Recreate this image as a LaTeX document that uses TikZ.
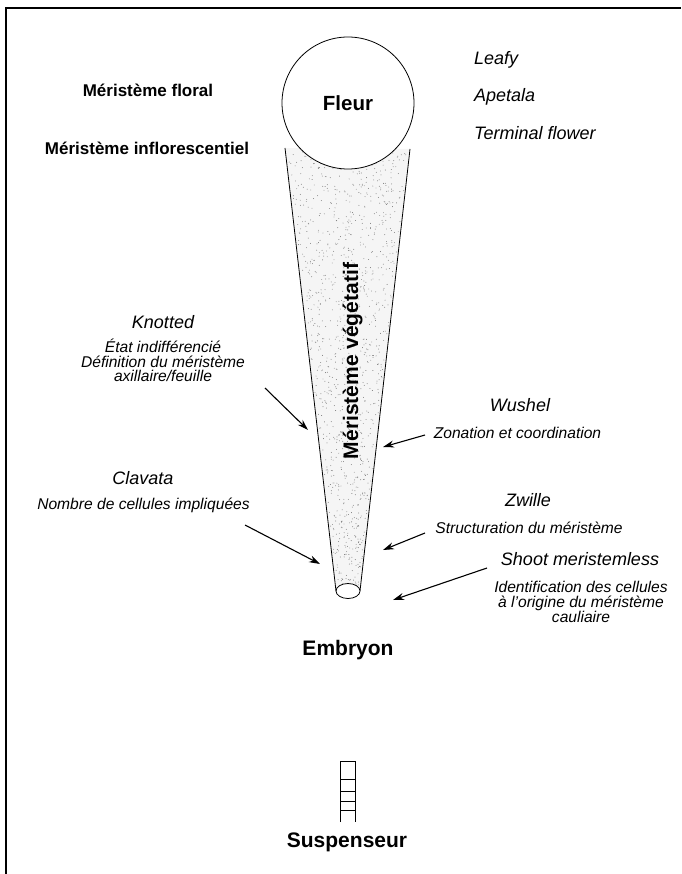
\documentclass[tikz,border=0pt]{standalone}
\usepackage{fontspec}
\setmainfont{Liberation Sans}
\usetikzlibrary{arrows.meta}
\begin{document}
\begin{tikzpicture}[x=1pt,y=-1pt,
  lbl/.style={font=\bfseries\fontsize{17}{20}\selectfont, inner sep=0pt},
  big/.style={font=\bfseries\fontsize{21}{24}\selectfont, inner sep=0pt},
  gene/.style={font=\itshape\fontsize{18}{21}\selectfont, inner sep=0pt},
  desc/.style={font=\itshape\fontsize{15.6}{14.5}\selectfont, inner sep=0pt, align=center},
  arr/.style={-{Stealth[length=11pt,width=7pt]}, line width=1.1pt},
  outline/.style={line width=0.8pt},
  speck/.style={black!55}]
\useasboundingbox (0,0) rectangle (681,874);
% frame
\draw[line width=1.5pt] (6,874) -- (6,8) -- (681,8);
% cone (vegetative meristem)
\coordinate (ctl) at (285,148);
\coordinate (ctr) at (410,149);
\coordinate (cbl) at (336,591);
\coordinate (cbr) at (360,591);
\fill[black!4] (ctl) -- (cbl) -- (cbr) -- (ctr) -- cycle;
\pgfmathsetseed{7}
\foreach \i in {1,...,1100}{
  \pgfmathsetmacro{\ty}{152+434*rnd^1.3}
  \pgfmathsetmacro{\xl}{285+0.1164*(\ty-148)+1.5}
  \pgfmathsetmacro{\xr}{410-0.1134*(\ty-149)-1.5}
  \pgfmathsetmacro{\tx}{\xl+(\xr-\xl)*rnd}
  \fill[speck] (\tx,\ty) circle[radius=0.45pt];
}
\draw[outline] (ctl) -- (cbl);
\draw[outline] (ctr) -- (cbr);
\draw[outline, fill=white] (348,591) ellipse [x radius=12pt, y radius=7.5pt];
% flower
\node[circle, draw, outline, fill=white, minimum size=132pt, inner sep=0pt,
      font=\bfseries\fontsize{20.5}{24}\selectfont] (fleur) at (348,103) {Fleur};
\node[big, rotate=90, anchor=base] (veg) at (358,361) {Méristème végétatif};
% left labels
\node[lbl] (floral) at (148,90) {Méristème floral};
\node[lbl] (inflo) at (147,148) {Méristème inflorescentiel};
% right genes (top)
\node[gene, anchor=west] (leafy) at (474,60) {Leafy};
\node[gene, anchor=west] (apetala) at (474,97) {Apetala};
\node[gene, anchor=west] (tfl) at (474,133) {Terminal flower};
% Knotted
\node[gene] (knotted) at (163,322) {Knotted};
\node[desc, anchor=north] (knotdesc) at (163,339) {État indifférencié\\Définition du méristème\\axillaire/feuille};
\coordinate (kt) at (265,388);
\coordinate (kh) at (308,430);
\draw[arr] (kt) -- (kh);
% Clavata
\node[gene] (clavata) at (143,478) {Clavata};
\node[desc] (clavdesc) at (143.5,505) {Nombre de cellules impliquées};
\coordinate (clt) at (245,525);
\coordinate (clh) at (320,564);
\draw[arr] (clt) -- (clh);
% Wushel
\node[gene] (wushel) at (520,405) {Wushel};
\node[desc] (wusdesc) at (517.5,433) {Zonation et coordination};
\coordinate (wt) at (425,435);
\coordinate (wh) at (383,447);
\draw[arr] (wt) -- (wh);
% Zwille
\node[gene] (zwille) at (528,500) {Zwille};
\node[desc] (zwidesc) at (529,528) {Structuration du méristème};
\coordinate (zt) at (425,533);
\coordinate (zh) at (383,550);
\draw[arr] (zt) -- (zh);
% Shoot meristemless
\node[gene] (stm) at (580,559) {Shoot meristemless};
\node[desc, anchor=north] (stmdesc) at (581,581) {Identification des cellules\\à l'origine du méristème\\cauliaire};
\coordinate (st) at (487,568);
\coordinate (sh) at (393,600);
\draw[arr] (st) -- (sh);
% embryo
\node[big] (embryon) at (348,650) {Embryon};
% suspensor
\coordinate (susp) at (340,761);
\draw[outline] (340,822) -- (susp) -- (355,761) -- (355,822);
\foreach \yy in {779,791,801,810} \draw[outline] (340,\yy) -- (355,\yy);
\node[big] (suspenseur) at (347,842) {Suspenseur};
\end{tikzpicture}
\end{document}
